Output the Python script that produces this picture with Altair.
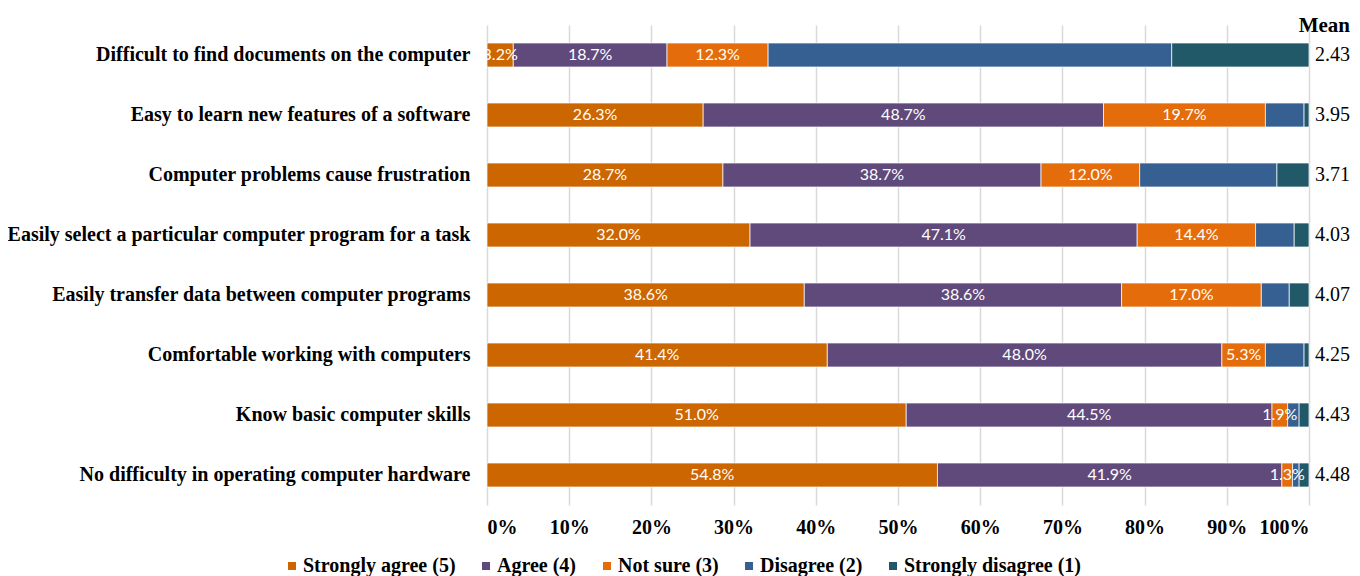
import altair as alt
import pandas as pd

items = [
    "Difficult to find documents on the computer",
    "Easy to learn new features of a software",
    "Computer problems cause frustration",
    "Easily select a particular computer program for a task",
    "Easily transfer data between computer programs",
    "Comfortable working with computers",
    "Know basic computer skills",
    "No difficulty in operating computer hardware",
]
categories = ["Strongly agree (5)", "Agree (4)", "Not sure (3)", "Disagree (2)", "Strongly disagree (1)"]
colors = ["#CC6600", "#604A7B", "#E46C0A", "#376092", "#215968"]

strongly_agree = [3.2, 26.3, 28.7, 32.0, 38.6, 41.4, 51.0, 54.8]
agree = [18.7, 48.7, 38.7, 47.1, 38.6, 48.0, 44.5, 41.9]
not_sure = [12.3, 19.7, 12.0, 14.4, 17.0, 5.3, 1.9, 1.3]
disagree = [49.1, 4.7, 16.7, 4.7, 3.4, 4.7, 1.4, 0.8]
strongly_disagree = [16.7, 0.6, 3.9, 1.8, 2.4, 0.6, 1.2, 1.2]
means = ["2.43", "3.95", "3.71", "4.03", "4.07", "4.25", "4.43", "4.48"]

series = [strongly_agree, agree, not_sure, disagree, strongly_disagree]
rows = []
for ci, (cat, vals) in enumerate(zip(categories, series)):
    for item, v in zip(items, vals):
        rows.append({"item": item, "cat": cat, "ord": ci, "pct": v})
df = pd.DataFrame(rows)
mean_df = pd.DataFrame({"item": items, "mean": means})
head_df = pd.DataFrame({"t": ["Mean"]})

SERIF = "Liberation Serif"

y_enc = alt.Y("item:N", sort=items, title=None,
              scale=alt.Scale(paddingInner=0.6, paddingOuter=0.3),
              axis=alt.Axis(domain=False, ticks=False, labelPadding=17,
                            labelFont=SERIF, labelFontWeight="bold",
                            labelFontSize=20, labelColor="#000000", labelLimit=600))

base = alt.Chart(df).transform_stack(
    stack="pct", as_=["x0", "x1"], groupby=["item"], sort=[alt.SortField("ord")]
)

bars = base.mark_bar(stroke="#ffffff", strokeWidth=0.7).encode(
    x=alt.X("x0:Q", title=None,
            scale=alt.Scale(domain=[0, 100], nice=False),
            axis=alt.Axis(values=list(range(0, 101, 10)),
                          labelExpr="datum.value + '%'",
                          domain=False, ticks=False, labelPadding=12,
                          grid=True, gridColor="#D9D9D9", gridWidth=1.5,
                          labelFont=SERIF, labelFontWeight="bold",
                          labelFontSize=20, labelColor="#000000")),
    x2="x1:Q",
    y=y_enc,
    color=alt.Color("cat:N", sort=categories,
                    scale=alt.Scale(domain=categories, range=colors),
                    legend=alt.Legend(title=None, orient="none", direction="horizontal",
                                      legendX=-205, legendY=531, padding=0,
                                      symbolType="square", symbolSize=64,
                                      symbolStrokeWidth=0, columnPadding=20,
                                      labelOffset=1,
                                      labelFont=SERIF, labelFontWeight="bold",
                                      labelFontSize=20, labelColor="#000000",
                                      labelLimit=400)),
    order=alt.Order("ord:Q"),
)

labels = base.transform_filter("datum.ord <= 2").transform_calculate(
    mid="(datum.x0 + datum.x1) / 2",
    lab="format(datum.pct, '.1f') + '%'",
).mark_text(color="#FFFFFF", font="Lato", fontSize=16, clip=True).encode(
    x="mid:Q", y=alt.Y("item:N", sort=items), text="lab:N"
)

mean_text = alt.Chart(mean_df).mark_text(
    font=SERIF, fontSize=20, color="#000000", align="right"
).encode(x=alt.value(863), y=alt.Y("item:N", sort=items), text="mean:N")

head = alt.Chart(head_df).mark_text(
    font=SERIF, fontSize=21, fontWeight="bold", color="#000000", align="right"
).encode(x=alt.value(863), y=alt.value(1), text="t:N")

chart = alt.layer(bars, labels, mean_text, head).properties(
    width=822, height=480,
    autosize=alt.AutoSizeParams(type="none"),
    padding={"left": 479, "top": 17, "right": 43, "bottom": 71},
).configure_view(stroke=None)

chart.save("out.html", embed_options={"renderer": "svg", "actions": False})
